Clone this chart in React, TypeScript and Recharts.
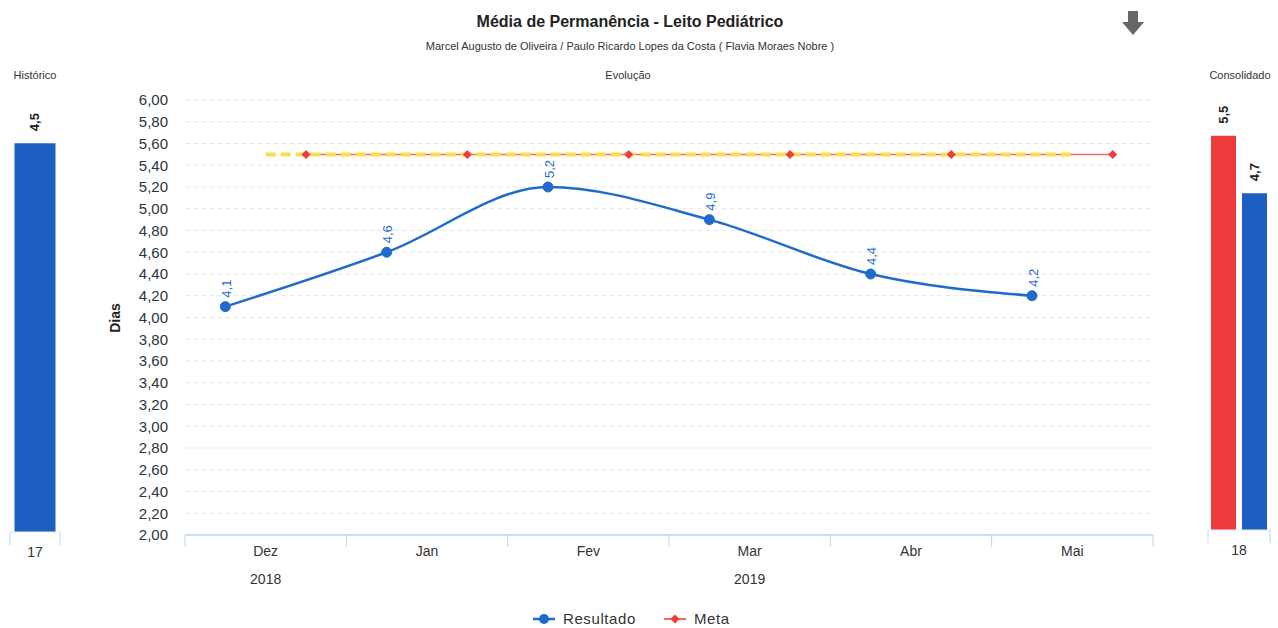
import {
  ComposedChart,
  BarChart,
  Bar,
  Line,
  XAxis,
  YAxis,
  CartesianGrid,
  LabelList,
} from "recharts";

// Evolução mensal
const meses = ["Dez", "Jan", "Fev", "Mar", "Abr", "Mai"];
const anos = ["2018", "2019"];
const mesesPorAno = [1, 5];
const resultado = [4.1, 4.6, 5.2, 4.9, 4.4, 4.2];
const meta = [5.5, 5.5, 5.5, 5.5, 5.5, 5.5];
const yTicks = [
  2.0, 2.2, 2.4, 2.6, 2.8, 3.0, 3.2, 3.4, 3.6, 3.8, 4.0, 4.2, 4.4, 4.6, 4.8,
  5.0, 5.2, 5.4, 5.6, 5.8, 6.0,
];

// Histórico e consolidado
const historicoCategorias = ["17"];
const historicoValores = [4.5];
const consolidadoCategorias = ["18"];
const consolidadoMeta = [5.5];
const consolidadoResultado = [4.7];

const AZUL = "#1f6bcc";
const AZUL_BARRA = "#1d5fc0";
const VERMELHO = "#ee3b3b";
const AMARELO = "#f2e04c";
const EIXO = "#b9d8ee";
const TEXTO = "#333";
const FONTE = "'Liberation Sans', Arial, sans-serif";

const virgula = (v: number, casas: number) => v.toFixed(casas).replace(".", ",");

// posição dos pontos dentro de cada mês
const OFFSET_RESULTADO = 0.25;
const OFFSET_META = 0.75;

const resultadoData = resultado.map((v, i) => ({ pos: i + OFFSET_RESULTADO, valor: v }));
const metaData = meta.map((v, i) => ({ pos: i + OFFSET_META, valor: v }));
const metaFaixaData = meta.map((v, i) => ({ pos: i + 0.5, valor: v }));

// ticks inteiros = divisões entre meses, meios = rótulo do mês
const xTicks: number[] = [];
for (let i = 0; i <= meses.length * 2; i++) xTicks.push(i / 2);

const centroAno: Record<string, string> = {};
{
  let inicio = 0;
  mesesPorAno.forEach((n, i) => {
    centroAno[String(inicio + n / 2)] = anos[i];
    inicio += n;
  });
}

const historicoData = historicoCategorias.map((c, i) => ({ nome: c, valor: historicoValores[i] }));
const consolidadoData = consolidadoCategorias.map((c, i) => ({
  nome: c,
  meta: consolidadoMeta[i],
  resultado: consolidadoResultado[i],
}));

function TickMes(props: any) {
  const { x, y, payload } = props;
  const v = Number(payload.value);
  if (Number.isInteger(v)) {
    return <line x1={x} y1={y} x2={x} y2={y + 12} stroke={EIXO} strokeWidth={1} />;
  }
  const ano = centroAno[String(v)];
  return (
    <g>
      <text x={x} y={y + 11} dy="0.71em" textAnchor="middle" fontSize={14} fill={TEXTO} fontFamily={FONTE}>
        {meses[Math.floor(v)]}
      </text>
      {ano && (
        <text x={x} y={y + 39} dy="0.71em" textAnchor="middle" fontSize={14} fill={TEXTO} fontFamily={FONTE}>
          {ano}
        </text>
      )}
    </g>
  );
}

function TickBorda(props: any) {
  const { x, y, payload, width } = props;
  const meia = (Number(width) || 50) / 2;
  return (
    <g>
      <line x1={x - meia} y1={y} x2={x - meia} y2={y + 13} stroke={EIXO} />
      <line x1={x + meia} y1={y} x2={x + meia} y2={y + 13} stroke={EIXO} />
      <text x={x} y={y + 15} dy="0.71em" textAnchor="middle" fontSize={14} fill={TEXTO} fontFamily={FONTE}>
        {payload.value}
      </text>
    </g>
  );
}

function Losango(props: any) {
  const { cx, cy } = props;
  if (cx == null || cy == null) return null;
  const s = 4.5;
  return (
    <polygon
      points={`${cx},${cy - s} ${cx + s},${cy} ${cx},${cy + s} ${cx - s},${cy}`}
      fill={VERMELHO}
    />
  );
}

function RotuloPonto(props: any) {
  const { x, y, value } = props;
  if (x == null || y == null) return null;
  const ty = y - 9;
  return (
    <text
      x={x + 1}
      y={ty}
      transform={`rotate(-90 ${x + 1} ${ty})`}
      textAnchor="start"
      dominantBaseline="central"
      fontSize={13}
      fill={AZUL}
      fontFamily={FONTE}
    >
      {virgula(Number(value), 1)}
    </text>
  );
}

function RotuloBarra(props: any) {
  const { x, y, width, value } = props;
  const cx = x + width / 2;
  const ty = y - 12;
  return (
    <text
      x={cx}
      y={ty}
      transform={`rotate(-90 ${cx} ${ty})`}
      textAnchor="start"
      dominantBaseline="central"
      fontSize={13}
      fontWeight="bold"
      fill="#222"
      fontFamily={FONTE}
    >
      {virgula(Number(value), 1)}
    </text>
  );
}

const abs = (left: number, top: number, extra: React.CSSProperties = {}): React.CSSProperties => ({
  position: "absolute",
  left,
  top,
  fontFamily: FONTE,
  whiteSpace: "nowrap",
  ...extra,
});

export default function App() {
  return (
    <div
      style={{
        position: "absolute",
        left: 0,
        top: 0,
        width: 1278,
        height: 628,
        background: "#fff",
        overflow: "hidden",
        fontFamily: FONTE,
      }}
    >
      <div style={abs(0, 13, { width: 1260, textAlign: "center", fontSize: 16, fontWeight: "bold", color: "#222" })}>
        Média de Permanência - Leito Pediátrico
      </div>
      <div style={abs(0, 40, { width: 1260, textAlign: "center", fontSize: 11, color: TEXTO })}>
        Marcel Augusto de Oliveira / Paulo Ricardo Lopes da Costa ( Flavia Moraes Nobre )
      </div>
      <svg style={{ position: "absolute", left: 1121, top: 10 }} width={24} height={26}>
        <polygon points="7,1 17,1 17,12 23,12 12,25 1,12 7,12" fill="#666" />
      </svg>
      <div style={abs(0, 69, { width: 70, textAlign: "center", fontSize: 11, color: TEXTO })}>Histórico</div>
      <div style={abs(580, 69, { width: 96, textAlign: "center", fontSize: 11, color: TEXTO })}>Evolução</div>
      <div style={abs(1198, 69, { width: 84, textAlign: "center", fontSize: 11, color: TEXTO })}>Consolidado</div>
      <div
        style={abs(100, 310, {
          fontSize: 14,
          fontWeight: "bold",
          color: "#222",
          transform: "rotate(-90deg)",
          transformOrigin: "center",
        })}
      >
        Dias
      </div>

      {/* Evolução */}
      <div style={{ position: "absolute", left: 0, top: 0 }}>
        <ComposedChart width={1278} height={628} margin={{ top: 100, right: 125, left: 125, bottom: 35 }}>
          <CartesianGrid vertical={false} stroke="#e6e6e6" strokeDasharray="5 3" />
          <XAxis
            type="number"
            dataKey="pos"
            domain={[0, meses.length]}
            ticks={xTicks}
            interval={0}
            tick={<TickMes />}
            tickLine={false}
            tickSize={0}
            tickMargin={0}
            axisLine={{ stroke: EIXO, strokeWidth: 1.5 }}
            height={58}
            allowDataOverflow
          />
          <YAxis
            type="number"
            domain={[2, 6]}
            ticks={yTicks}
            interval={0}
            tickFormatter={(v) => virgula(Number(v), 2)}
            axisLine={false}
            tickLine={false}
            tickSize={0}
            tickMargin={17}
            width={60}
            tick={{ fontSize: 15, fill: "#2d3440", fontFamily: FONTE }}
            allowDataOverflow
          />
          <Line
            data={metaData}
            dataKey="valor"
            name="Meta"
            type="linear"
            stroke="#f06868"
            strokeWidth={1.5}
            dot={<Losango />}
            isAnimationActive={false}
          />
          <Line
            data={metaFaixaData}
            dataKey="valor"
            type="linear"
            stroke={AMARELO}
            strokeWidth={4}
            strokeDasharray="10 5"
            dot={false}
            legendType="none"
            isAnimationActive={false}
          />
          <Line
            data={resultadoData}
            dataKey="valor"
            name="Resultado"
            type="monotone"
            stroke={AZUL}
            strokeWidth={2.5}
            dot={{ r: 5, fill: AZUL, stroke: AZUL, strokeWidth: 1 }}
            isAnimationActive={false}
          >
            <LabelList dataKey="valor" content={<RotuloPonto />} />
          </Line>
        </ComposedChart>
      </div>

      {/* Histórico */}
      <div style={{ position: "absolute", left: 0, top: 0 }}>
        <BarChart
          width={70}
          height={628}
          data={historicoData}
          margin={{ top: 100, right: 10, left: 10, bottom: 66 }}
          barCategoryGap="9%"
        >
          <XAxis
            dataKey="nome"
            axisLine={{ stroke: "#e3eef7" }}
            tickLine={false}
            tickSize={0}
            tickMargin={0}
            tick={<TickBorda />}
            height={30}
          />
          <YAxis hide domain={[0, 5]} allowDataOverflow />
          <Bar dataKey="valor" fill={AZUL_BARRA} isAnimationActive={false}>
            <LabelList dataKey="valor" content={<RotuloBarra />} />
          </Bar>
        </BarChart>
      </div>

      {/* Consolidado */}
      <div style={{ position: "absolute", left: 1200, top: 0 }}>
        <BarChart
          width={78}
          height={628}
          data={consolidadoData}
          margin={{ top: 100, right: 8, left: 8, bottom: 68 }}
          barCategoryGap={3}
          barGap={6}
        >
          <XAxis
            dataKey="nome"
            axisLine={{ stroke: "#e3eef7" }}
            tickLine={false}
            tickSize={0}
            tickMargin={0}
            tick={<TickBorda />}
            height={30}
          />
          <YAxis hide domain={[0, 6]} allowDataOverflow />
          <Bar dataKey="meta" fill={VERMELHO} isAnimationActive={false}>
            <LabelList dataKey="meta" content={<RotuloBarra />} />
          </Bar>
          <Bar dataKey="resultado" fill={AZUL_BARRA} isAnimationActive={false}>
            <LabelList dataKey="resultado" content={<RotuloBarra />} />
          </Bar>
        </BarChart>
      </div>

      {/* Legenda */}
      <div style={abs(531, 610, { display: "flex", alignItems: "center", fontSize: 15, color: TEXTO })}>
        <svg width={26} height={14} style={{ marginRight: 6 }}>
          <line x1={2} y1={7} x2={24} y2={7} stroke={AZUL} strokeWidth={2.5} />
          <circle cx={13} cy={7} r={5} fill={AZUL} />
        </svg>
        <span style={{ marginRight: 26, letterSpacing: 0.6 }}>Resultado</span>
        <svg width={26} height={14} style={{ marginRight: 6 }}>
          <line x1={2} y1={7} x2={24} y2={7} stroke="#f06868" strokeWidth={2} />
          <polygon points="13,2.5 17.5,7 13,11.5 8.5,7" fill={VERMELHO} />
        </svg>
        <span style={{ letterSpacing: 0.6 }}>Meta</span>
      </div>
    </div>
  );
}
